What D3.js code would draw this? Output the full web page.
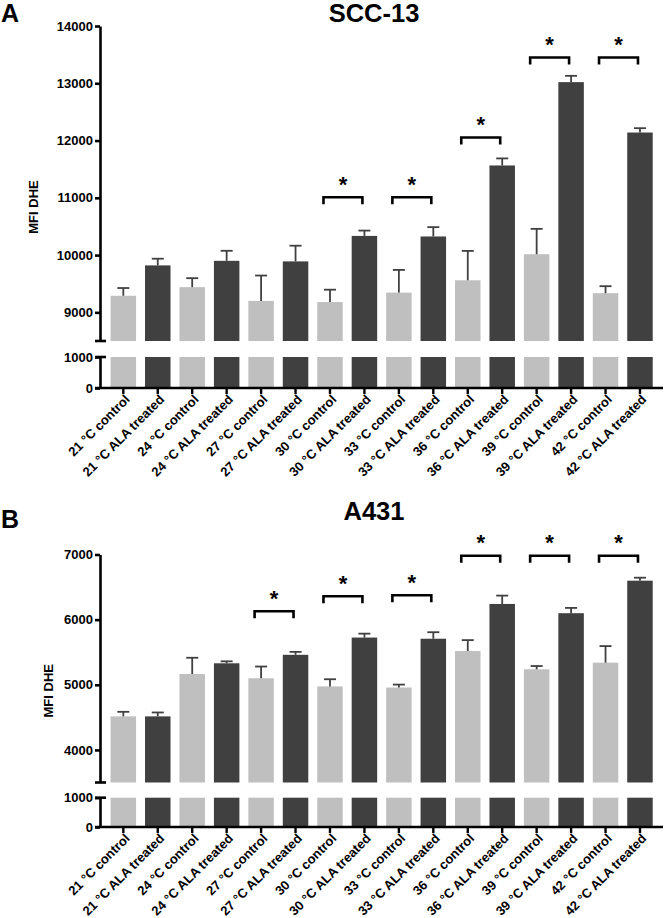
<!DOCTYPE html>
<html><head><meta charset="utf-8">
<script src="https://cdn.jsdelivr.net/npm/d3@7"></script>
<style>
html,body{margin:0;padding:0;background:#fff;}
svg{display:block;font-family:"Liberation Sans",Arial,sans-serif;}
</style></head>
<body><svg id="chart" width="666" height="918"></svg>
<script>
// ---------- data ----------
const categories = [
  "21 °C control","21 °C ALA treated","24 °C control","24 °C ALA treated",
  "27 °C control","27 °C ALA treated","30 °C control","30 °C ALA treated",
  "33 °C control","33 °C ALA treated","36 °C control","36 °C ALA treated",
  "39 °C control","39 °C ALA treated","42 °C control","42 °C ALA treated"
];
const groups = ["control","ALA treated","control","ALA treated","control","ALA treated","control","ALA treated",
                "control","ALA treated","control","ALA treated","control","ALA treated","control","ALA treated"];

const sccMeans = [9290, 9820, 9440, 9900, 9200, 9890, 9180, 10335, 9345, 10325, 9560, 11565, 10015, 13020, 9335, 12140];
const sccErrors = [135, 117, 157, 175, 443, 274, 216, 93, 396, 163, 513, 123, 443, 110, 122, 76];
const sccTicks = [9000, 10000, 11000, 12000, 13000, 14000];
const sccBreak = [8500, 14000];
const sccSigControls = ["30 °C control","33 °C control","36 °C control","39 °C control","42 °C control"];
const sccSigLevels = [11010, 11010, 12053, 13450, 13450];

const a431Means = [4515, 4515, 5165, 5330, 5100, 5460, 4975, 5725, 4958, 5707, 5518, 6241, 5238, 6099, 5340, 6598];
const a431Errors = [70, 60, 250, 30, 180, 45, 110, 60, 45, 100, 168, 128, 50, 81, 254, 46];
const a431Ticks = [4000, 5000, 6000, 7000];
const a431Break = [3500, 7000];
const a431SigControls = ["27 °C control","30 °C control","33 °C control","36 °C control","39 °C control","42 °C control"];
const a431SigLevels = [6129, 6359, 6374, 6980, 6980, 6980];

const lowTicks = [0, 1000];
const lowDomain = [0, 1000];

// ---------- styles ----------
const FONT = "'Liberation Sans', Arial, sans-serif";
const color = d3.scaleOrdinal().domain(["control","ALA treated"]).range(["#bfbfbf","#404040"]);
const ERR = "#404040";

const svg = d3.select("#chart");

const x = d3.scaleBand().domain(categories).range([106.1, 657.2]).paddingInner(0.26).paddingOuter(0.13);
const axisX = 100, axisRight = 663;

function drawPanel(o) {
  const g = svg.append("g");
  const yTop = d3.scaleLinear().domain(o.breakDomain).range([o.breakY, o.topY]);
  const yLow = d3.scaleLinear().domain(lowDomain).range([o.zeroY, o.lowTopY]);
  const data = categories.map((c, i) => ({c, grp: groups[i], v: o.means[i], e: o.errors[i]}));

  // bars upper segment
  g.selectAll("rect.up").data(data).join("rect")
    .attr("x", d => x(d.c)).attr("width", x.bandwidth())
    .attr("y", d => yTop(d.v)).attr("height", d => yTop(o.breakDomain[0]) - yTop(d.v))
    .attr("fill", d => color(d.grp));
  // bars lower segment
  g.selectAll("rect.low").data(data).join("rect")
    .attr("x", d => x(d.c)).attr("width", x.bandwidth())
    .attr("y", yLow(lowDomain[1])).attr("height", yLow(0) - yLow(lowDomain[1]))
    .attr("fill", d => color(d.grp));

  // error bars (upper only)
  const eb = g.append("g").attr("stroke", ERR).attr("stroke-width", 1.8).attr("fill", "none");
  data.forEach(d => {
    const cx = x(d.c) + x.bandwidth() / 2;
    eb.append("line").attr("x1", cx).attr("x2", cx).attr("y1", yTop(d.v)).attr("y2", yTop(d.v + d.e));
    eb.append("line").attr("x1", cx - 6).attr("x2", cx + 6).attr("y1", yTop(d.v + d.e)).attr("y2", yTop(d.v + d.e));
  });

  // y axis upper
  const axTop = g.append("g").attr("transform", `translate(${axisX},0)`)
    .call(d3.axisLeft(yTop).tickValues(o.ticks).tickFormat(d3.format("d")).tickSize(5).tickSizeOuter(0).tickPadding(2));
  const axLow = g.append("g").attr("transform", `translate(${axisX},0)`)
    .call(d3.axisLeft(yLow).tickValues(lowTicks).tickFormat(d3.format("d")).tickSize(5).tickSizeOuter(0).tickPadding(2));
  [axTop, axLow].forEach(a => {
    a.selectAll("path.domain").attr("stroke", "#000").attr("stroke-width", 2.6);
    a.selectAll(".tick line").attr("stroke", "#000").attr("stroke-width", 2.6);
    a.selectAll(".tick text").attr("font-family", FONT).attr("font-size", 13).attr("font-weight", "bold").attr("fill", "#000");
  });
  // break caps
  g.append("line").attr("x1", axisX - 5).attr("x2", axisX + 6)
    .attr("y1", yTop(o.breakDomain[0])).attr("y2", yTop(o.breakDomain[0])).attr("stroke", "#000").attr("stroke-width", 2.6);
  g.append("line").attr("x1", axisX - 5).attr("x2", axisX + 6)
    .attr("y1", yLow(lowDomain[1])).attr("y2", yLow(lowDomain[1])).attr("stroke", "#000").attr("stroke-width", 2.6);

  // x axis
  const zy = yLow(0);
  g.append("line").attr("x1", axisX - 5).attr("x2", axisRight).attr("y1", zy).attr("y2", zy)
    .attr("stroke", "#000").attr("stroke-width", 2.6);
  g.selectAll("line.xt").data(categories).join("line")
    .attr("x1", d => x(d) + x.bandwidth() / 2).attr("x2", d => x(d) + x.bandwidth() / 2)
    .attr("y1", zy).attr("y2", zy + 6).attr("stroke", "#000").attr("stroke-width", 2.4);
  g.selectAll("text.xl").data(categories).join("text")
    .attr("transform", d => `translate(${x(d) + x.bandwidth() / 2 + 4},${zy + 9}) rotate(-45)`)
    .attr("text-anchor", "end").attr("dy", "0.35em")
    .attr("font-family", FONT).attr("font-size", 13).attr("font-weight", "bold").attr("fill", "#000")
    .text(d => d);

  // significance brackets
  o.sigControls.forEach((c, i) => {
    const ci = categories.indexOf(c);
    const c1 = x(categories[ci]) + x.bandwidth() / 2;
    const c2 = x(categories[ci + 1]) + x.bandwidth() / 2;
    const x1 = c1 - 6.5, x2 = c2 - 2;
    const ly = yTop(o.sigLevels[i]);
    g.append("path").attr("d", `M${x1},${ly + 7}V${ly}H${x2}V${ly + 7}`)
      .attr("fill", "none").attr("stroke", "#000").attr("stroke-width", 2.6);
    g.append("text").attr("x", (x1 + x2) / 2).attr("y", ly - 5.5).attr("text-anchor", "middle")
      .attr("font-family", FONT).attr("font-size", 22).attr("font-weight", "bold").text("*");
  });

  // y label
  const ymid = (o.topY + o.zeroY) / 2;
  g.append("text").attr("transform", `translate(${o.labelX},${ymid}) rotate(-90)`)
    .attr("text-anchor", "middle").attr("font-family", FONT).attr("font-size", 13).attr("font-weight", "bold")
    .text("MFI DHE");

  // title & panel letter
  g.append("text").attr("x", 374).attr("y", o.titleY).attr("text-anchor", "middle")
    .attr("font-family", FONT).attr("font-size", 25.5).attr("font-weight", "bold").text(o.title);
  g.append("text").attr("x", 1).attr("y", o.letterY)
    .attr("font-family", FONT).attr("font-size", 25).attr("font-weight", "bold").text(o.letter);
}

drawPanel({
  means: sccMeans, errors: sccErrors, ticks: sccTicks, breakDomain: sccBreak,
  sigControls: sccSigControls, sigLevels: sccSigLevels,
  topY: 26, breakY: 341, lowTopY: 357, zeroY: 388,
  labelX: 38, title: "SCC-13", titleY: 22, letter: "A", letterY: 22
});
drawPanel({
  means: a431Means, errors: a431Errors, ticks: a431Ticks, breakDomain: a431Break,
  sigControls: a431SigControls, sigLevels: a431SigLevels,
  topY: 554.5, breakY: 782.5, lowTopY: 797.7, zeroY: 827,
  labelX: 53, title: "A431", titleY: 520, letter: "B", letterY: 528
});
</script>
</body></html>
